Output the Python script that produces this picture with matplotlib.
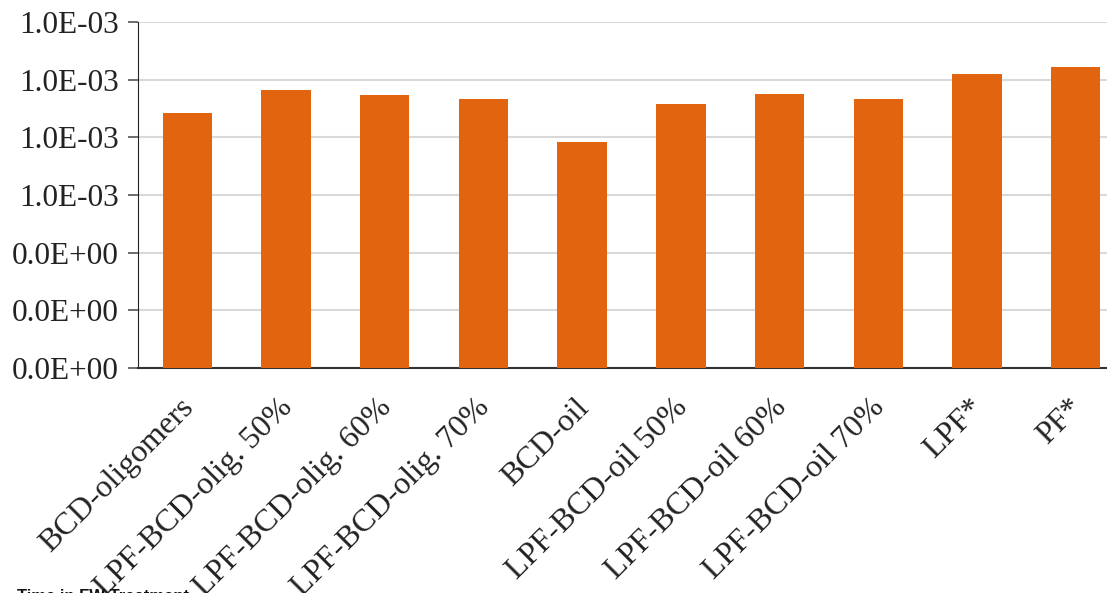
import matplotlib.pyplot as plt
from matplotlib.ticker import FuncFormatter, MultipleLocator
from matplotlib.transforms import ScaledTranslation

# sample names and measured values
samples = ["BCD-oligomers", "LPF-BCD-olig. 50%", "LPF-BCD-olig. 60%",
           "LPF-BCD-olig. 70%", "BCD-oil", "LPF-BCD-oil 50%",
           "LPF-BCD-oil 60%", "LPF-BCD-oil 70%", "LPF*", "PF*"]
values = [0.000885, 0.000963, 0.000948, 0.000933, 0.000785,
          0.000914, 0.000949, 0.000933, 0.001018, 0.001045]

bar_color = "#E2640F"
serif = ["Liberation Serif", "DejaVu Serif"]

fig = plt.figure(figsize=(11.07, 5.93), dpi=100)
ax = fig.add_axes([0.1247, 0.3794, 0.8753, 0.5835])

x = list(range(len(samples)))
ax.bar(x, values, width=0.5, color=bar_color, zorder=3)

ax.set_xlim(-0.5, 9.318)
ax.set_ylim(0, 0.0012)
ax.yaxis.set_major_locator(MultipleLocator(0.0002))
# labels rounded to 3 decimals before exp formatting
ax.yaxis.set_major_formatter(FuncFormatter(lambda v, p: f"{round(v, 3):.1E}"))
ax.grid(axis="y", color="#d9d9d9", linewidth=1.5, zorder=0)

for s in ["top", "right"]:
    ax.spines[s].set_visible(False)
ax.spines["left"].set_color("#222222")
ax.spines["bottom"].set_color("#333333")
ax.spines["bottom"].set_linewidth(1.5)

ax.tick_params(axis="y", length=7, width=1.2, color="#555555", pad=7)
ax.tick_params(axis="x", length=0, pad=18)
ax.set_xticks(x)
ax.set_xticklabels(samples, rotation=45, ha="right", rotation_mode="anchor")
shift = ScaledTranslation(-8 / 100, 0, fig.dpi_scale_trans)
for lab in ax.get_xticklabels():
    lab.set_transform(lab.get_transform() + shift)
for lab in ax.get_xticklabels() + ax.get_yticklabels():
    lab.set_fontfamily(serif)
    lab.set_fontsize(23)
    lab.set_color("#222222")
for lab in ax.get_yticklabels():
    lab.set_fontsize(22.5)

# axis title, mostly cut off at the lower edge
fig.text(0.015, -0.019, "Time in FW Treatment", fontsize=12, fontweight="bold",
         family=["Liberation Sans", "DejaVu Sans"], color="#111111",
         ha="left", va="bottom")

fig.savefig("out.png", dpi=100)
